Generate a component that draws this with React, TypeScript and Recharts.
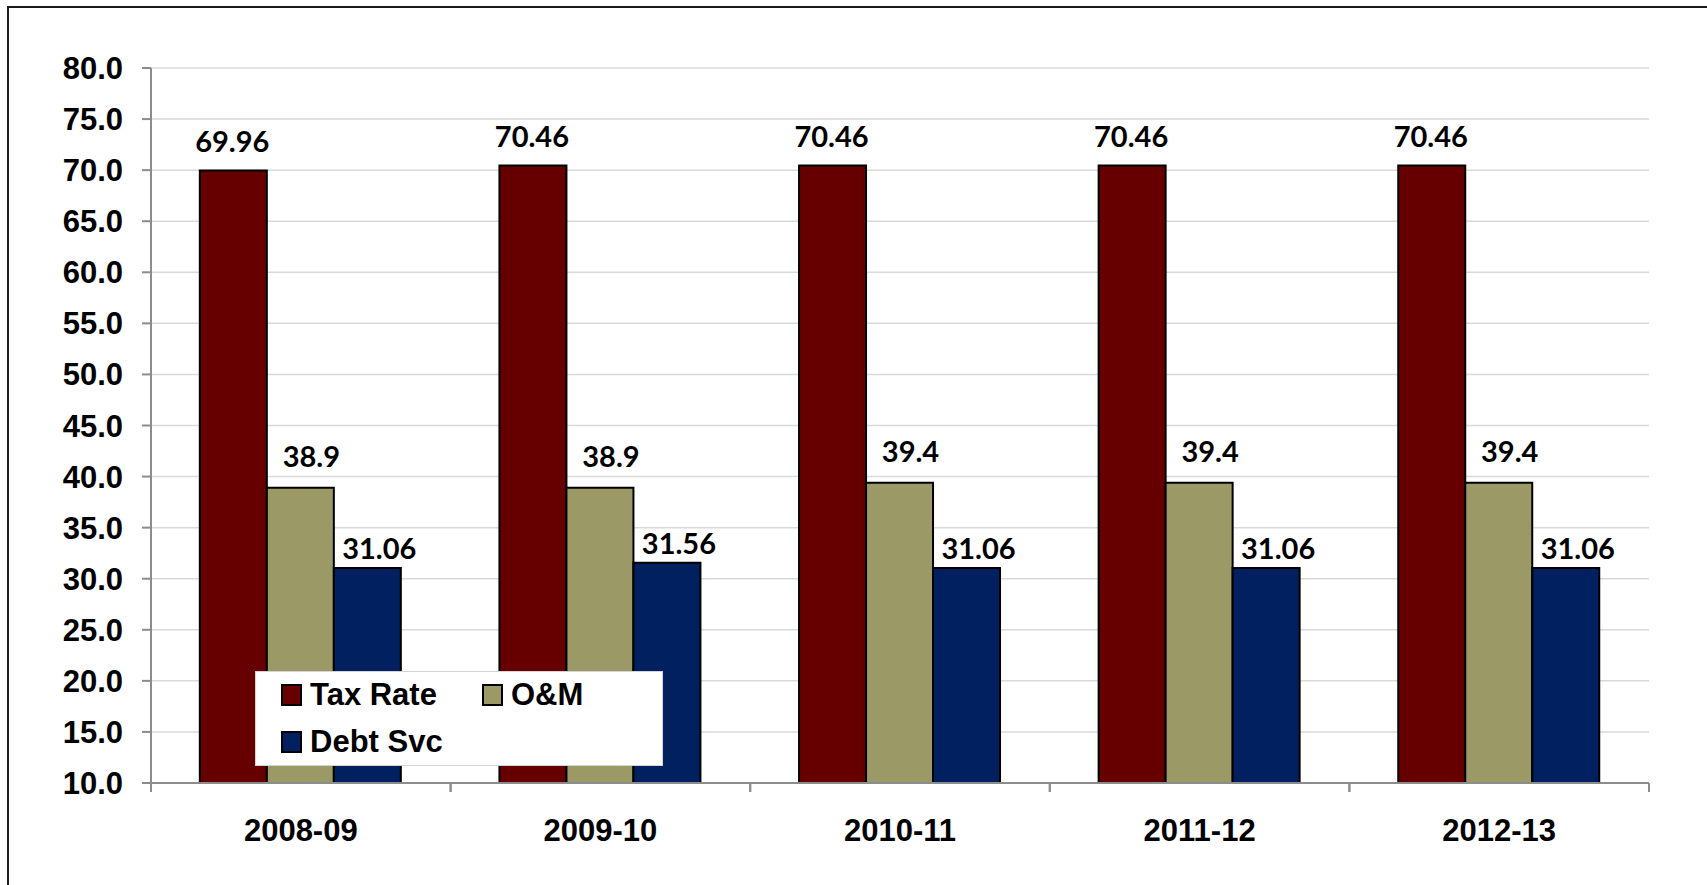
import React from 'react';
import {
  BarChart,
  Bar,
  XAxis,
  YAxis,
  CartesianGrid,
  LabelList,
} from 'recharts';

// -- values read off the picture --

const categories = ['2008-09', '2009-10', '2010-11', '2011-12', '2012-13'];
const taxRate = [69.96, 70.46, 70.46, 70.46, 70.46];
const oAndM = [38.9, 38.9, 39.4, 39.4, 39.4];
const debtSvc = [31.06, 31.56, 31.06, 31.06, 31.06];
const yTicks = [10, 15, 20, 25, 30, 35, 40, 45, 50, 55, 60, 65, 70, 75, 80];

const series = [
  { key: 'tax', name: 'Tax Rate', fill: '#660000' },
  { key: 'om', name: 'O&M', fill: '#9b9966' },
  { key: 'debt', name: 'Debt Svc', fill: '#002060' },
];

const data = categories.map((name, i) => ({
  name,
  tax: taxRate[i],
  om: oAndM[i],
  debt: debtSvc[i],
}));

const AXIS_FONT = '"Liberation Sans", Arial, sans-serif';
const LABEL_FONT = 'Lato, "Open Sans", sans-serif';

// data label drawn above the bar, nudged a bit like the original
const topLabel = (dx: number, dy: number) => (props: any) => {
  const { x, y, width, value } = props;
  return (
    <text
      x={x + width / 2 + dx}
      y={y - dy}
      textAnchor="middle"
      dominantBaseline="central"
      fontFamily={LABEL_FONT}
      fontWeight="bold"
      fontSize={29}
      fill="#000"
    >
      {value}
    </text>
  );
};

// category label, with tick marks on the band edges instead of the centre
const CategoryTick = (props: any) => {
  const { x, y, payload } = props;
  const half = payload.offset || 0;
  return (
    <g>
      <line x1={x - half} y1={y} x2={x - half} y2={y + 9} stroke="#8c8c8c" strokeWidth={2} />
      <line x1={x + half} y1={y} x2={x + half} y2={y + 9} stroke="#8c8c8c" strokeWidth={2} />
      <text
        x={x}
        y={y + 47}
        textAnchor="middle"
        dominantBaseline="central"
        fontFamily={AXIS_FONT}
        fontWeight="bold"
        fontSize={31}
        fill="#000"
      >
        {payload.value}
      </text>
    </g>
  );
};

const LegendBox = () => (
  <div
    style={{
      position: 'absolute',
      left: 255,
      top: 671,
      width: 408,
      height: 95,
      background: '#fff',
      border: '1px solid #d4d4d4',
      boxSizing: 'border-box',
      fontFamily: AXIS_FONT,
      fontWeight: 'bold',
      fontSize: 31,
      color: '#000',
    }}
  >
    {series.map((s, i) => (
      <div
        key={s.key}
        style={{
          position: 'absolute',
          left: i === 1 ? 226 : 25,
          top: i === 2 ? 48 : 1,
          display: 'flex',
          alignItems: 'center',
          height: 44,
          whiteSpace: 'nowrap',
        }}
      >
        <span
          style={{
            display: 'inline-block',
            width: 17,
            height: 18,
            background: s.fill,
            border: '2px solid #000',
            marginRight: 8,
          }}
        />
        {s.name}
      </div>
    ))}
  </div>
);

export default function App() {
  return (
    <div
      style={{
        position: 'fixed',
        left: 0,
        top: 0,
        width: 1707,
        height: 885,
        overflow: 'hidden',
        background: '#fff',
      }}
    >
      <div
        style={{
          position: 'absolute',
          left: 7,
          top: 6,
          width: 1760,
          height: 960,
          border: '2.5px solid #1a1a1a',
        }}
      />
      <div style={{ position: 'absolute', left: 0, top: 0 }}>
        <BarChart
          width={1707}
          height={885}
          data={data}
          margin={{ top: 68, right: 58, left: 0, bottom: 42 }}
          barCategoryGap="16.3%"
          barGap={0}
        >
          <CartesianGrid vertical={false} stroke="#d9d9d9" strokeWidth={1.5} />
          <XAxis
            dataKey="name"
            height={60}
            axisLine={{ stroke: '#8c8c8c', strokeWidth: 2 }}
            tickLine={false}
            tickSize={0}
            tickMargin={0}
            tick={<CategoryTick />}
            interval={0}
          />
          <YAxis
            width={151}
            domain={[10, 80]}
            ticks={yTicks}
            allowDataOverflow
            tickFormatter={(v: number) => v.toFixed(1)}
            axisLine={{ stroke: '#8c8c8c', strokeWidth: 2 }}
            tickLine={{ stroke: '#8c8c8c', strokeWidth: 2 }}
            tickSize={9}
            tickMargin={19}
            tick={{ fontFamily: AXIS_FONT, fontWeight: 'bold', fontSize: 31, fill: '#000' }}
          />
          <Bar dataKey="tax" name="Tax Rate" fill="#660000" stroke="#000" strokeWidth={2} isAnimationActive={false}>
            <LabelList dataKey="tax" content={topLabel(-1, 30)} />
          </Bar>
          <Bar dataKey="om" name="O&M" fill="#9b9966" stroke="#000" strokeWidth={2} isAnimationActive={false}>
            <LabelList dataKey="om" content={topLabel(11, 32)} />
          </Bar>
          <Bar dataKey="debt" name="Debt Svc" fill="#002060" stroke="#000" strokeWidth={2} isAnimationActive={false}>
            <LabelList dataKey="debt" content={topLabel(12, 20)} />
          </Bar>
        </BarChart>
      </div>
      <LegendBox />
    </div>
  );
}
